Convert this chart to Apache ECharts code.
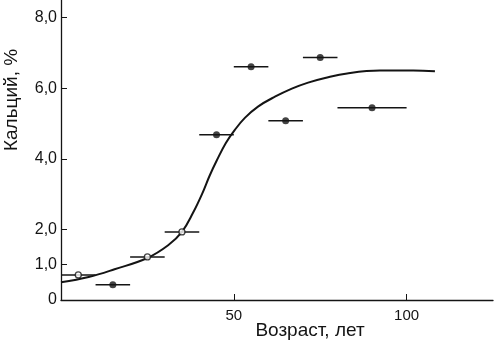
<!DOCTYPE html>
<html>
<head>
<meta charset="utf-8">
<script src="https://cdn.jsdelivr.net/npm/echarts@6/dist/echarts.min.js"></script>
<style>
  html, body { margin: 0; padding: 0; background: #fff; }
  #chart { width: 500px; height: 342px; }
</style>
</head>
<body>
<div id="chart"></div>
<script>
// Measured samples: age group midpoint, group bounds, calcium content
const ages = [5, 15, 25, 35, 45, 55, 65, 75, 90];
const ageFrom = [0, 10, 20, 30, 40, 50, 60, 70, 80];
const ageTo = [10, 20, 30, 40, 50, 60, 70, 80, 100];
const calcium = [0.71, 0.43, 1.22, 1.93, 4.68, 6.61, 5.08, 6.87, 5.45];
const solid = [false, true, false, false, true, true, true, true, true];

// Fitted trend curve
const curveAge = [0, 8, 15.5, 25, 31, 35, 38.2, 40.8, 43, 45.1, 47.7, 50.3, 53.2, 57, 61.9, 66.8, 71.5, 76.4, 82.8, 92.3, 101.9, 108.2];
const curveCa = [0.5, 0.65, 0.87, 1.19, 1.55, 1.93, 2.47, 3.0, 3.52, 3.96, 4.45, 4.82, 5.16, 5.48, 5.76, 5.99, 6.16, 6.29, 6.42, 6.5, 6.5, 6.48];

// Axis tick labels
const yTicks = [0, 1, 2, 4, 6, 8];
const xTicks = [50, 100];

const ink = '#141414';
const font = 'Liberation Sans, Arial, sans-serif';

const chart = echarts.init(document.getElementById('chart'));

const bars = ages.map((a, i) => [ageFrom[i], ageTo[i], calcium[i]]);
const openPts = ages.map((a, i) => solid[i] ? null : [a, calcium[i]]).filter(Boolean);
const solidPts = ages.map((a, i) => solid[i] ? [a, calcium[i]] : null).filter(Boolean);

chart.setOption({
  animation: false,
  backgroundColor: '#fff',
  grid: { left: 61, right: 7, top: 0, bottom: 42, containLabel: false, outerBoundsMode: 'none' },
  xAxis: {
    type: 'value',
    min: 0, max: 125,
    axisLine: { lineStyle: { color: ink, width: 1.3 } },
    axisTick: { inside: true, length: 6, customValues: xTicks, lineStyle: { color: ink } },
    axisLabel: { customValues: xTicks, color: ink, fontSize: 15, fontFamily: font, margin: 8 },
    splitLine: { show: false },
    name: 'Возраст, лет',
    nameLocation: 'middle',
    nameGap: 21,
    nameMoveOverlap: false,
    nameTextStyle: { color: ink, fontSize: 19, fontFamily: font, padding: [0, 0, 0, 66] }
  },
  yAxis: {
    type: 'value',
    min: 0, max: 8.5,
    axisLine: { show: true, lineStyle: { color: ink, width: 1.3 } },
    axisTick: { show: true, inside: true, length: 6, customValues: yTicks, lineStyle: { color: ink } },
    axisLabel: {
      customValues: yTicks, color: ink, fontSize: 16, fontFamily: font, margin: 4,
      formatter: v => v === 0 ? '0' : v.toFixed(1).replace('.', ',')
    },
    splitLine: { show: false },
    name: 'Кальций, %',
    nameLocation: 'middle',
    nameRotate: 90,
    nameGap: 40,
    nameMoveOverlap: false,
    nameTextStyle: { color: ink, fontSize: 19, fontFamily: font, padding: [0, 0, 0, 100] }
  },
  series: [
    {
      type: 'line',
      data: curveAge.map((a, i) => [a, curveCa[i]]),
      smooth: 0.4,
      showSymbol: false,
      lineStyle: { color: ink, width: 2 },
      z: 2
    },
    {
      type: 'custom',
      data: bars,
      renderItem: (params, api) => {
        const p1 = api.coord([api.value(0), api.value(2)]);
        const p2 = api.coord([api.value(1), api.value(2)]);
        return {
          type: 'line',
          shape: { x1: p1[0], y1: p1[1], x2: p2[0], y2: p2[1] },
          style: { stroke: ink, lineWidth: 1.5 }
        };
      },
      z: 3
    },
    {
      type: 'scatter',
      data: openPts,
      symbol: 'circle',
      symbolSize: 6,
      itemStyle: { color: '#fff', borderColor: ink, borderWidth: 1.3 },
      z: 4
    },
    {
      type: 'scatter',
      data: solidPts,
      symbol: 'circle',
      symbolSize: 7,
      itemStyle: { color: ink },
      z: 4
    }
  ]
});
</script>
</body>
</html>
